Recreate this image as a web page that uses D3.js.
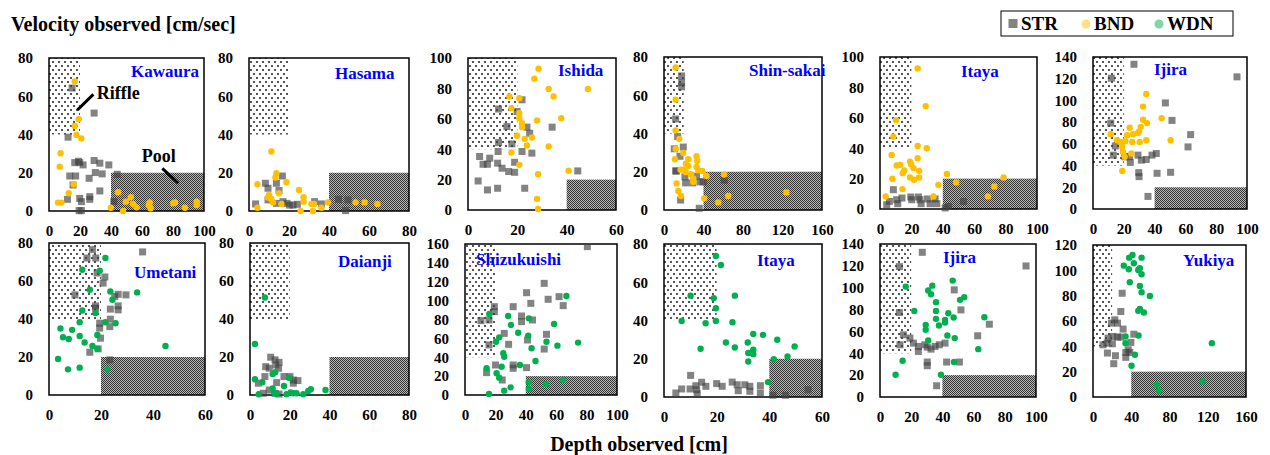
<!DOCTYPE html>
<html>
<head>
<meta charset="utf-8">
<script src="https://cdn.jsdelivr.net/npm/d3@7"></script>
<style>
body { margin: 0; background: #fff; }
text { font-family: "Liberation Serif", "Times New Roman", serif; font-weight: bold; }
</style>
</head>
<body>
<script>
// data: [depth cm, velocity cm/sec]
const siteNames = ['Kawaura', 'Hasama', 'Ishida', 'Shin-sakai', 'Itaya', 'Ijira',
                   'Umetani', 'Daianji', 'Shizukuishi', 'Itaya', 'Ijira', 'Yukiya']
const xMax = [100, 80, 60, 160, 100, 100, 60, 80, 100, 60, 100, 160]
const yMax = [80, 80, 100, 80, 100, 140, 80, 80, 160, 80, 140, 120]
const poolStart = [40, 40, 40, 40, 40, 40, 20, 40, 40, 40, 40, 40]
// second series is BND on the top row, WDN on the bottom row
const otherSeries = ['BND', 'BND', 'BND', 'BND', 'BND', 'BND', 'WDN', 'WDN', 'WDN', 'WDN', 'WDN', 'WDN']

const kawauraSTR = [[14.9,64.3],[29.1,51.2],[12.3,38.6],[16.6,25.3],[19.8,25.3],[22,24.1],[19,26],[13.4,18.3],[17.2,18.3],
  [15.5,13.6],[25.9,17.1],[29.1,26.4],[29.9,20.1],[32.8,25],[34.3,19.4],[38.6,24.1],[44,19.2],[32.8,10.5],[11.9,6.1],
  [19.8,6.6],[20.9,4.9],[26.3,7.5],[26.3,6.1],[19.4,0.2],[20.9,0.2],[41.8,4.9]]
const kawauraBND = [[16.6,67.8],[19.2,48],[16.6,44.5],[17.7,39.8],[20.9,37.9],[7.5,30.2],[6.9,23.2],[15.9,14],[12.7,9.3],
  [5.8,4.4],[8,4.4],[44.6,9.8],[39.9,1.7],[47.8,0],[49.6,4.9],[52.8,7.2],[54.3,3.7],[56.5,1.9],[64.4,3.1],[65,4.5],
  [65.5,1.4],[80.2,4],[81.3,4.5],[87.7,1.7],[95.3,4.9],[95.3,3.1]]
const hasamaSTR = [[3.3,3.7],[8.2,14.5],[9.5,11.9],[9.5,5.8],[13.7,14.5],[15,10.7],[16.7,18.3],[13.7,4],[17,4.9],[19,4],
  [20.3,3.1],[22,3.1],[24.2,3.5],[32.8,4.9],[36.2,3.7],[44.8,6.1],[49.5,5.8],[48.3,0.2]]
const hasamaBND = [[4.2,1.7],[4.2,14],[11.2,31.1],[13.7,19.7],[13.2,17.5],[10,8.4],[9.5,7],[11.2,6.3],[12,4.5],[15,9.3],
  [16.2,3.7],[18.7,15],[25,11],[27.3,7.2],[27.3,4.9],[25.8,0],[31.2,3.7],[32,0],[32.5,3.7],[36.2,1.7],[39.5,4.5],
  [53.3,4.5],[57.8,4.5],[64.2,3.7]]
const ishidaSTR = [[21.9,72.5],[12.4,66.4],[19.9,64.8],[15.8,54.9],[23.9,54.5],[25,50.5],[34.1,54.5],[12.4,44.4],[17.8,43.5],
  [12.2,38.5],[21.9,38.5],[25.9,37.4],[4.7,35.2],[8.8,34.1],[6.1,30.1],[7.9,30.1],[12,30.8],[13.8,27.5],[16.5,25.3],
  [18.9,24.8],[18.9,31.4],[44.5,25.7],[4.1,19.1],[7.9,13.2],[12,14.3],[23,14.3]]
const ishidaBND = [[28.6,93],[26.9,86.4],[32.7,79.6],[34.7,74.7],[48.6,79.6],[16.8,74.7],[20.8,73.6],[17.6,67],[20.8,63.7],
  [20.8,60.4],[21.9,57.1],[21.9,54.5],[28,58.9],[37.8,60.4],[19.9,48.8],[23,46.8],[25.9,47.7],[23.9,42.4],[32.7,41.8],
  [17.6,37.8],[20.8,29.7],[28.4,23.5],[40.8,25.9],[28,7.3],[28.4,0.7]]
const shinsakaiSTR = [[17.8,70.1],[17.8,66.7],[17.8,64.4],[11.8,47.6],[13.8,38.4],[10.4,32],[19.5,32.9],[11.8,20.4],[12.5,20.4],
  [16.2,28.1],[21.2,17.3],[21.9,14.2],[16.8,5.2],[29,14.2],[33,17.7],[36.4,14.7],[39.7,14.7],[35.7,0.9],[60.9,15.6]]
const shinsakaiBND = [[11.8,74.5],[11.8,57.7],[11.8,41.6],[11.8,32],[15.5,37.2],[11.1,26.5],[12.8,13.9],[14.5,9.9],[17.2,7.3],
  [19.5,29.8],[24.6,26.5],[22.2,24.2],[24.6,23],[19.5,21.1],[21.9,19.9],[16.8,21.1],[33,28.1],[33.7,25.6],[33,22.5],
  [27.3,18.7],[29.6,16.5],[29.6,14.7],[34.7,20.8],[38.7,20.4],[43.1,17.8],[40.7,6.1],[54.9,4],[65,7.3],[60.9,18.5],[123.9,9.2]]
const itayaSTR = [[4.3,2.8],[6,5],[8.5,12.7],[10.6,6.1],[11.3,3.5],[14,7.2],[19.6,7.9],[20.2,6.1],[24.5,7.9],[25.5,6.1],
  [26.2,3.5],[30.2,6.6],[31.9,3.5],[35.1,6.6],[36.2,3.5],[41.5,0.7],[43.6,1.7],[53.2,5]]
const itayaBND = [[24,92.4],[29.1,67.7],[10.2,58.5],[8.5,47.6],[24,41.5],[29.8,40],[7.4,35.6],[24,33.4],[19.1,31.2],[10.6,28.6],
  [12.8,29],[19.8,29.5],[14.5,23.6],[15.5,25.3],[24.9,25.1],[21.3,26.9],[19.1,20.7],[21.7,19.2],[24.9,20.7],[7.9,19.9],
  [14.3,13.1],[3.6,8.3],[34,8.3],[37.2,15.9],[42.6,23.1],[48.5,17.5],[68.7,8.3],[72.8,14.8],[78.7,20.7]]
const ijiraSTR = [[26.6,133.3],[11.9,120.5],[93.5,121.7],[11.5,79.1],[47,97.7],[51.3,81.6],[63.4,68.5],[61.7,57.2],[14.5,58.1],
  [13.2,49.6],[20.6,48.1],[23.8,48.1],[24.2,42.9],[29.2,49.6],[31.4,45],[34.6,45.6],[38.3,49.6],[41.1,51.1],[29.7,33.5],
  [29.9,29.8],[41.6,32.9],[50.4,33.8],[35.7,11.6]]
const ijiraBND = [[34.6,105.9],[32.5,94.3],[32.5,82.2],[35.1,79.1],[31,75.5],[29.9,71.5],[26,68.8],[29.2,70],[22.1,67.9],
  [23.8,74.9],[44.6,83.7],[50.4,63.3],[34.6,63.3],[30.3,61.8],[21,62.4],[25.5,61.8],[18,61.8],[15.6,63.3],[11.5,68.8],
  [19,57.2],[19.5,52.6],[24.9,51.1],[20.6,48.1],[19,35]]
const umetaniSTR = [[16.7,76.5],[14.6,72.1],[18,72.1],[36,75.3],[18.5,64.2],[21.5,62.1],[20.8,58.9],[10,52.7],[26.6,53],
  [29.6,52.7],[17.9,46.9],[17.9,45.7],[26.6,46.9],[26.6,44.8],[23.6,45.2],[25.3,51.9],[19.5,37.8],[19.5,35.2],[23.6,39.9],
  [23.4,36],[19.8,29.9],[18.9,24.3],[15.7,22.5],[23.4,18.5]]
const umetaniWDN = [[21.7,72.1],[12.8,65.9],[19.5,65.4],[15.7,55.4],[23.6,54.5],[33.9,54],[24.4,50.1],[12.8,44.5],[17.9,43.1],
  [11.8,38.3],[21.7,38.3],[25.6,37.8],[4.4,35],[8.9,34.3],[5.4,30.4],[7.6,29.5],[11.8,31.1],[18.6,31.6],[13.7,27.6],
  [16.7,25.8],[18.6,24.3],[44.8,25.8],[3.5,19],[7.3,13.5],[11.8,14.4],[22.5,13.5]]
const daianjiSTR = [[10.4,19.9],[7.9,14.9],[9.7,14.1],[12.6,18.5],[13,15.8],[14.6,17.2],[14.4,14.1],[7.5,9.7],[4.2,6.2],
  [13.4,6.5],[17.1,9.7],[20.1,9.7],[21.8,7.9],[24.1,7.6],[21.8,6.2],[9.7,2.6],[6.7,0.9],[12.6,0.9],[14.6,0.5]]
const daianjiWDN = [[7.5,51.3],[2.5,26.9],[2.5,8.3],[6.2,6.7],[4.4,0.4],[11.4,11.1],[12.7,12],[11.4,3.5],[12.2,1.2],[13.4,0.5],
  [17.1,4.7],[19.7,9.1],[18.4,0.4],[20.4,1.4],[21.8,0.9],[23.4,0.9],[26.8,0.4],[29.3,2.1],[30.6,3],[38,2.6]]
const shizukuishiSTR = [[80.5,157.2],[52.1,118.3],[40.5,108.4],[43.3,97.1],[54.7,101.4],[61.9,104.2],[64.6,94.7],[31.7,93.6],
  [19.3,93.6],[19.3,88.3],[37.2,83.7],[37.2,77.7],[44.4,79.5],[10.5,78.8],[15.8,79.5],[15.8,53],[25.8,65.3],[28.7,53.7],
  [41.1,58.3],[53.6,64.3],[52.1,48.7],[20.1,31.8],[31.7,31.8],[31.7,28.3],[40.5,29],[14.2,23.7],[24.5,15.9]]
const shizukuishiWDN = [[66.7,104.9],[16,85.8],[28.4,83.7],[30.2,74.2],[42,81.2],[35,66],[58.6,75.2],[41.6,62.9],[22.5,61.1],
  [20.4,56.5],[53.6,56.5],[74.4,55.5],[60.8,52.3],[43.8,49.5],[25.2,44.2],[25.8,40.6],[46.4,36],[36.1,31.8],[24.1,30],
  [14.2,28.3],[20.8,23],[22.5,18.4],[42,13.4],[42,6.4],[30,8.1],[25.8,4.6],[15.8,1.1],[53.2,11.7],[64.6,15.9]]
const itaya2STR = [[4.5,2.1],[6.7,4.2],[10.1,11.3],[9.9,4.2],[12.1,5.9],[12.4,3.8],[12.6,1.7],[14.3,7.7],[15.9,5.6],[20,7],
  [22.1,5.6],[25.9,7.8],[27.8,6.4],[28.2,3.3],[30.7,6.4],[32.6,5.6],[32.6,3],[36.6,5.9],[36.6,2.1],[41.4,0.9],[46.1,0.9],[54.7,3.8]]
const itaya2WDN = [[19.7,73.7],[21.6,69],[10.1,53],[26.9,53],[18.9,51.7],[19.7,46.4],[6.7,39.8],[15.8,38.6],[19.7,39.8],
  [26,39.1],[33.9,33],[37.6,32.5],[43,29.9],[23.5,28.5],[31.8,28.5],[49.6,26.4],[26.9,25.9],[13.9,25.2],[33.9,24.7],
  [33.3,23.3],[32,23],[33.9,22.4],[46.9,21.2],[41.7,19.8],[32,18.6],[39.5,7.8]]
const ijira2STR = [[27.1,132.4],[12.4,119.3],[93.6,119.9],[47.6,98],[12.4,77.3],[51.9,79.7],[15,56.9],[19.2,53.9],[12.8,47.8],
  [21.4,49.3],[24.6,46.3],[24.6,41.7],[28.8,47.8],[30.3,45.6],[32.7,43.8],[35.3,46.3],[38,47.8],[41.7,49.3],[62.6,56],
  [70.1,66.6],[30.3,32],[30.3,28.6],[42.7,32],[50.9,32],[36.3,10.3]]
const ijira2WDN = [[46.6,106.5],[33.5,101.9],[16.5,101],[30.9,97.4],[32.7,94],[35.9,86.7],[54,91.3],[51.3,88.9],[22,78.8],
  [35.9,78.8],[43.8,76.7],[35.9,71.5],[41.7,70.6],[41.7,68.2],[47.2,72.7],[66.9,73],[29.3,66],[37.8,65.4],[29.3,61.5],
  [43.2,56.3],[47.9,53.9],[30.9,51.7],[63,43.8],[14.5,33.2],[47.4,32],[10,20.4],[39.1,20.4]]
const yukiyaSTR = [[30.5,81.9],[29.1,67.5],[22.8,60.9],[25.6,58.3],[19.3,58.3],[31.5,53.6],[15.8,46.5],[21,47.8],[25.6,47.3],
  [29.1,47.3],[10.5,41.2],[14.7,42.5],[20.3,42],[15.1,34.7],[23.5,32.6],[21.7,26.3],[39.6,43.1],[34.3,35.2],[38.5,35.2],
  [34.3,31.3],[42.7,49.6],[36.8,37.3]]
const yukiyaWDN = [[41.3,112.1],[37.8,110],[42.7,105.6],[32.2,103.7],[50.8,110],[37.5,100.8],[47.3,100.3],[49,101.6],[50.8,96.9],
  [38.5,90.6],[49,87.7],[50.8,82.7],[59.5,79.8],[47.3,68],[49,69.6],[53.2,66.7],[47.6,48.6],[34,47.8],[34,42.5],[43.8,33.4],
  [40.3,24.7],[66.5,9.7],[69.3,5],[114.8,12.3],[124.3,42.5]]

const strData = [kawauraSTR, hasamaSTR, ishidaSTR, shinsakaiSTR, itayaSTR, ijiraSTR,
                 umetaniSTR, daianjiSTR, shizukuishiSTR, itaya2STR, ijira2STR, yukiyaSTR]
const otherData = [kawauraBND, hasamaBND, ishidaBND, shinsakaiBND, itayaBND, ijiraBND,
                   umetaniWDN, daianjiWDN, shizukuishiWDN, itaya2WDN, ijira2WDN, yukiyaWDN]

const legendItems = ['STR', 'BND', 'WDN']
const colors = { STR: '#404040', BND: '#ffc000', WDN: '#00b050' }

// panel boxes in pixels [left, top, width, height] and site label offset [dx, dy]
const boxes = [[49,58,155,153],[249,58,160,153],[468,58,148,152],[664,57,158,153],[880,57,157,152],[1093,57,154,152],
               [49,243,156,152],[250,243,159,152],[465,244,152,151],[664,244,158,153],[880,244,156,153],[1093,245,153,152]]
const labelPos = [[82,19],[86,21],[90,18],[85,19],[81,20],[61,18],[85,35],[88,24],[11,21],[93,22],[63,19],[90,21]]

const svg = d3.select('body').append('svg')
    .attr('width', 1270)
    .attr('height', 455)

// fill patterns for the riffle and pool zones
const defs = svg.append('defs')
const riffle = defs.append('pattern').attr('id', 'riffle')
    .attr('patternUnits', 'userSpaceOnUse').attr('width', 6).attr('height', 8)
riffle.append('rect').attr('width', 6).attr('height', 8).attr('fill', '#fff')
riffle.append('rect').attr('x', 1).attr('y', 1).attr('width', 2).attr('height', 2).attr('fill', '#555')
riffle.append('rect').attr('x', 4).attr('y', 5).attr('width', 2).attr('height', 2).attr('fill', '#555')

const pool = defs.append('pattern').attr('id', 'pool')
    .attr('patternUnits', 'userSpaceOnUse').attr('width', 2).attr('height', 2)
pool.append('rect').attr('width', 2).attr('height', 2).attr('fill', '#b8b8b8')
pool.append('rect').attr('x', 0).attr('y', 0).attr('width', 1).attr('height', 1).attr('fill', '#333')
pool.append('rect').attr('x', 1).attr('y', 1).attr('width', 1).attr('height', 1).attr('fill', '#333')

siteNames.forEach((name, i) => {
    const [left, top, w, h] = boxes[i]
    const g = svg.append('g')

    const x = d3.scaleLinear().domain([0, xMax[i]]).range([left, left + w])
    const y = d3.scaleLinear().domain([0, yMax[i]]).range([top + h, top])

    // riffle and pool zones
    g.append('rect')
        .attr('x', x(0)).attr('y', y(yMax[i]))
        .attr('width', x(20) - x(0)).attr('height', y(40) - y(yMax[i]))
        .attr('fill', 'url(#riffle)')
    g.append('rect')
        .attr('x', x(poolStart[i])).attr('y', y(20))
        .attr('width', x(xMax[i]) - x(poolStart[i])).attr('height', y(0) - y(20))
        .attr('fill', 'url(#pool)')

    // axes (no visible tick marks, labels only)
    const xStep = xMax[i] > 100 ? 40 : 20
    const xAxis = d3.axisBottom(x).tickValues(d3.range(0, xMax[i] + 1, xStep))
        .tickSize(0).tickPadding(14)
    const yAxis = d3.axisLeft(y).tickValues(d3.range(0, yMax[i] + 1, 20))
        .tickSize(0).tickPadding(16)
    g.append('g').attr('transform', `translate(0,${top + h})`).call(xAxis)
        .call(a => a.select('.domain').remove())
    g.append('g').attr('transform', `translate(${left},0)`).call(yAxis)
        .call(a => a.select('.domain').remove())
    g.selectAll('.tick text')
        .attr('font-size', 15)
        .attr('font-family', '"Liberation Serif", serif')
        .attr('font-weight', 'bold')
        .attr('fill', '#000')

    // frame
    g.append('rect')
        .attr('x', left).attr('y', top).attr('width', w).attr('height', h)
        .attr('fill', 'none').attr('stroke', '#000').attr('stroke-width', 1.5)

    // STR squares
    g.selectAll('rect.str')
        .data(strData[i])
        .join('rect')
        .attr('class', 'str')
        .attr('x', d => x(d[0]) - 3.5)
        .attr('y', d => y(d[1]) - 3.5)
        .attr('width', 7)
        .attr('height', 7)
        .attr('fill', colors.STR)
        .attr('fill-opacity', 0.65)

    // BND / WDN circles
    g.selectAll('circle')
        .data(otherData[i])
        .join('circle')
        .attr('cx', d => x(d[0]))
        .attr('cy', d => y(d[1]))
        .attr('r', 3.2)
        .attr('fill', colors[otherSeries[i]])

    // site label
    g.append('text')
        .attr('x', left + labelPos[i][0])
        .attr('y', top + labelPos[i][1])
        .attr('font-size', 17)
        .attr('fill', '#0000ff')
        .text(name)

    // riffle / pool annotations on the first panel
    if (i === 0) {
        g.append('line')
            .attr('x1', x(18.3)).attr('y1', y(52.8)).attr('x2', x(28.6)).attr('y2', y(61))
            .attr('stroke', '#000').attr('stroke-width', 3)
        g.append('text').attr('x', x(30.8)).attr('y', y(58.8)).attr('font-size', 18).text('Riffle')
        g.append('line')
            .attr('x1', x(73.1)).attr('y1', y(22.3)).attr('x2', x(83.4)).attr('y2', y(14.5))
            .attr('stroke', '#000').attr('stroke-width', 3)
        g.append('text').attr('x', x(59.8)).attr('y', y(25.6)).attr('font-size', 18).text('Pool')
    }
})

// axis titles
svg.append('text')
    .attr('x', 11).attr('y', 31)
    .attr('font-size', 20)
    .text('Velocity observed [cm/sec]')
svg.append('text')
    .attr('x', 639).attr('y', 451)
    .attr('text-anchor', 'middle')
    .attr('font-size', 20)
    .text('Depth observed [cm]')

// legend
const legend = svg.append('g')
legend.append('rect')
    .attr('x', 1001).attr('y', 11).attr('width', 232).attr('height', 25)
    .attr('fill', '#fff').attr('stroke', '#000').attr('stroke-width', 1)
const legendX = d3.scalePoint().domain(legendItems).range([1013, 1159])
legendItems.forEach(k => {
    if (k === 'STR') {
        legend.append('rect')
            .attr('x', legendX(k) - 4.5).attr('y', 19).attr('width', 9).attr('height', 9)
            .attr('fill', colors.STR).attr('fill-opacity', 0.65)
    } else {
        legend.append('circle')
            .attr('cx', legendX(k)).attr('cy', 24).attr('r', 4.5)
            .attr('fill', colors[k]).attr('fill-opacity', 0.5)
    }
    legend.append('text')
        .attr('x', legendX(k) + 8).attr('y', 30)
        .attr('font-size', 19)
        .text(k)
})
</script>
</body>
</html>
